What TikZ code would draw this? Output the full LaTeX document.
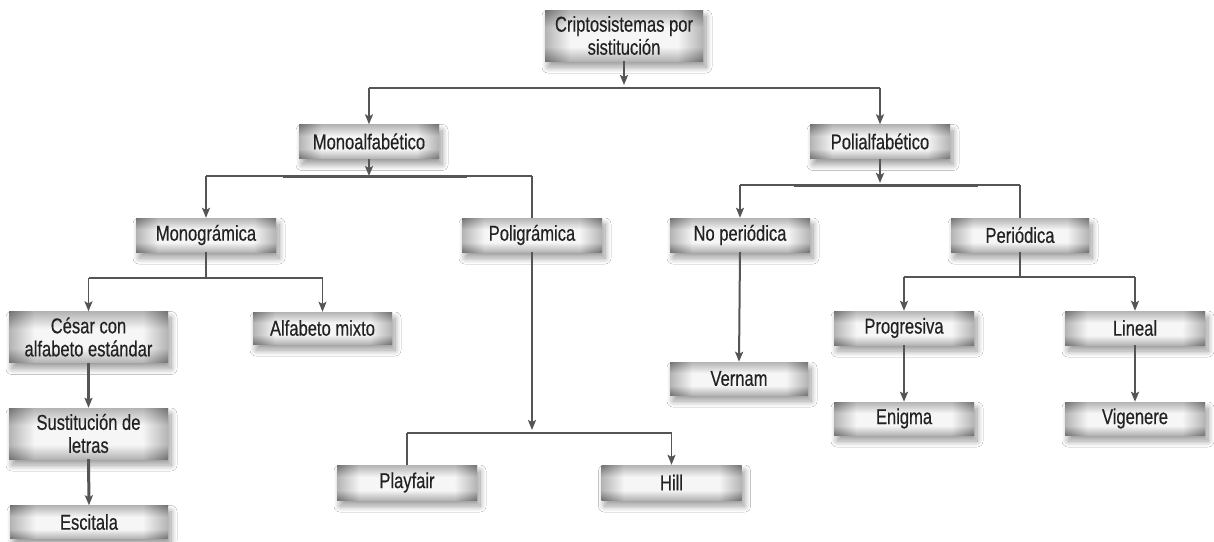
\documentclass[tikz,border=0pt]{standalone}
\usepackage{fontspec}
\setmainfont{Liberation Sans}[FakeStretch=0.77, FakeBold=0.4]
\usetikzlibrary{arrows.meta,shadows.blur,calc}
\definecolor{linecol}{HTML}{555555}
\definecolor{txtcol}{HTML}{222222}
\definecolor{boxedge}{HTML}{727272}
\definecolor{boxmid}{HTML}{F6F6F6}
\pgfdeclareverticalshading{boxv}{100bp}{color(0bp)=(boxedge); color(25bp)=(boxedge); color(39bp)=(boxmid); color(58bp)=(boxmid); color(75bp)=(boxedge); color(100bp)=(boxedge)}
\pgfdeclarehorizontalshading{boxh}{100bp}{color(0bp)=(boxedge); color(25bp)=(boxedge); color(33bp)=(boxmid); color(67bp)=(boxmid); color(75bp)=(boxedge); color(100bp)=(boxedge)}
\tikzset{
  box/.style={rectangle, inner sep=0pt, minimum width=140pt, minimum height=34pt,
    align=center, text=txtcol, font=\fontsize{21.5}{23}\selectfont,
    shade, shading=boxv,
    blur shadow={shadow xshift=3pt, shadow yshift=-6pt, shadow blur radius=6pt,
      shadow blur steps=12, shadow opacity=40},
    path picture={\shade[shading=boxh, fill opacity=0.5]
      (path picture bounding box.south west) rectangle (path picture bounding box.north east);}},
  tall/.style={minimum height=51pt},
  wide/.style={minimum width=159pt},
  conn/.style={draw=linecol, line width=1.4pt},
  stem/.style={draw=linecol, line width=2pt},
  heavy/.style={draw=linecol, line width=3pt},
  arr/.style={-{Stealth[length=10pt, width=8pt, inset=2pt]}},
}
\begin{document}
\begin{tikzpicture}[x=1pt, y=-1pt]
\useasboundingbox (0,0) rectangle (1214,541);
\fill[white] (0,0) rectangle (1214,541);

% nodes
\node[box, tall, minimum width=158pt] (root) at (624,35.5) {Criptosistemas por\\sistitución};
\node[box] (mono) at (369,141.5) {Monoalfabético};
\node[box] (poli) at (880,141.5) {Polialfabético};
\node[box] (monog) at (206,235) {Monográmica};
\node[box] (polig) at (532,235) {Poligrámica};
\node[box] (noper) at (740,235) {No periódica};
\node[box, minimum width=138pt] (per) at (1020,235) {Periódica};
\node[box, tall, wide] (cesar) at (88.5,337) {César con\\alfabeto estándar};
\node[box, minimum width=139pt, minimum height=32pt] (alfmix) at (322.5,328) {Alfabeto mixto};
\node[box, tall, wide] (sust) at (88.5,433.5) {Sustitución de\\letras};
\node[box, minimum width=158pt, minimum height=33pt] (esc) at (89,522) {Escitala};
\node[box, minimum height=35pt] (playfair) at (407,482.5) {Playfair};
\node[box, minimum height=35pt] (hill) at (671.5,482.5) {Hill};
\node[box, minimum width=138pt, minimum height=33pt] (vernam) at (739,378.5) {Vernam};
\node[box] (prog) at (904,328) {Progresiva};
\node[box] (lineal) at (1135,328) {Lineal};
\node[box, minimum height=33pt] (enigma) at (904,418.5) {Enigma};
\node[box, minimum height=33pt] (vigen) at (1135,418.5) {Vigenere};

% junction coordinates
\coordinate (j0) at (624,88);
\coordinate (j1) at (369,176);
\coordinate (j2) at (880,185);
\coordinate (j3) at (206,278);
\coordinate (j4) at (532,433);
\coordinate (j5) at (1020,277);

% root -> level 1
\draw[stem, arr] (root.south) -- ($(j0)+(0,-3)$);
\draw[conn] (mono.north |- j0) -- (poli.north |- j0);
\draw[conn, arr] (mono.north |- j0) -- (mono.north);
\draw[conn, arr] (poli.north |- j0) -- (poli.north);

% Monoalfabetico
\draw[conn] (monog.north |- j1) -- (polig.north |- j1);
\draw[heavy] (283,176) -- (467,176);
\draw[stem, arr] (mono.south) -- (j1);
\draw[conn, arr] (monog.north |- j1) -- (monog.north);
\draw[conn] (polig.north |- j1) -- (polig.north);

% Polialfabetico
\draw[conn] (noper.north |- j2) -- (per.north |- j2);
\draw[heavy] (794,185) -- (978,185);
\draw[stem, arr] (poli.south) -- ($(j2)+(0,-2)$);
\draw[conn, arr] (noper.north |- j2) -- (noper.north);
\draw[conn] (per.north |- j2) -- (per.north);

% Monogramica
\draw[stem] (monog.south) -- (j3);
\draw[conn] (cesar.north |- j3) -- (alfmix.north |- j3);
\draw[conn, arr] (cesar.north |- j3) -- (cesar.north);
\draw[conn, arr] (alfmix.north |- j3) -- (alfmix.north);
\draw[heavy, arr] (cesar.south) -- (sust.north);
\draw[heavy, arr] (sust.south) -- (esc.north);

% Poligramica
\draw[stem, arr] (polig.south) -- ($(j4)+(0,-3)$);
\draw[conn] (playfair.north |- j4) -- (hill.north |- j4);
\draw[conn] (playfair.north |- j4) -- (playfair.north);
\draw[conn, arr] (hill.north |- j4) -- (hill.north);

% No periodica
\draw[stem, arr] (noper.south) -- (vernam.north);

% Periodica
\draw[stem] (per.south) -- (j5);
\draw[conn] (prog.north |- j5) -- (lineal.north |- j5);
\draw[conn, arr] (prog.north |- j5) -- (prog.north);
\draw[conn, arr] (lineal.north |- j5) -- (lineal.north);
\draw[stem, arr] (prog.south) -- (enigma.north);
\draw[stem, arr] (lineal.south) -- (vigen.north);
\end{tikzpicture}
\end{document}
